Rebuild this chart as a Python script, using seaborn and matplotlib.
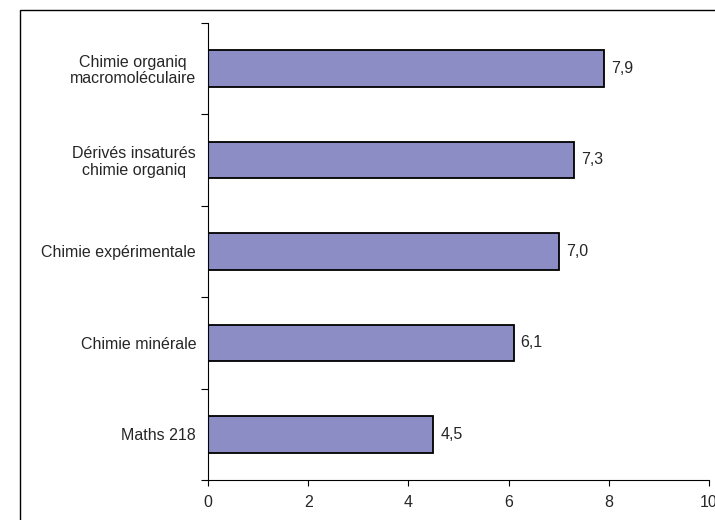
import matplotlib
matplotlib.use('Agg')
import matplotlib.pyplot as plt
from matplotlib.patches import Rectangle
from matplotlib.ticker import FixedLocator
import seaborn as sns
import pandas as pd

categories = ['Chimie organiq\nmacromoléculaire', 'Dérivés insaturés\nchimie organiq',
              'Chimie expérimentale', 'Chimie minérale', 'Maths 218']
values = [7.9, 7.3, 7.0, 6.1, 4.5]
xticks = [0, 2, 4, 6, 8, 10]

sns.set_style('white')
plt.rcParams['font.family'] = ['Liberation Sans', 'DejaVu Sans']
fs = 11.5

df = pd.DataFrame({'cat': categories, 'val': values})

fig = plt.figure(figsize=(7.15, 5.2), dpi=100)
ax = fig.add_axes([0.2909, 0.0769, 0.7007, 0.8794])

sns.barplot(data=df, x='val', y='cat', orient='h', color='#8B8DC4', saturation=1,
            width=0.4, edgecolor='black', linewidth=1.3, ax=ax)

# value labels with comma decimals
for i, v in enumerate(values):
    ax.text(v + 0.14, i, f'{v:.1f}'.replace('.', ','), va='center', ha='left', fontsize=fs)

ax.set_xlim(0, 10)
ax.set_ylim(len(categories) - 0.5, -0.5)
ax.set_xticks(xticks)
ax.set_xticklabels([str(t) for t in xticks], fontsize=fs)
ax.set_yticklabels(categories, fontsize=fs, linespacing=1.1, ha='right', multialignment='center')
ax.set_xlabel('')
ax.set_ylabel('')

ax.yaxis.set_minor_locator(FixedLocator([i - 0.5 for i in range(len(categories) + 1)]))
ax.tick_params(axis='y', which='major', length=0, pad=8.5)
ax.tick_params(axis='y', which='minor', left=True, length=5, width=0.8, color='black', direction='out')
ax.tick_params(axis='x', which='major', bottom=True, length=4, width=0.8, color='black',
               direction='out', pad=6.5)

for side in ['top', 'right']:
    ax.spines[side].set_visible(False)
for side in ['left', 'bottom']:
    ax.spines[side].set_color('black')
    ax.spines[side].set_linewidth(0.8)

# outer chart frame (cropped at right and bottom)
fig.patches.append(Rectangle((0.028, -0.2), 1.5, 1.181, transform=fig.transFigure,
                             fill=False, edgecolor='black', linewidth=1.0))

fig.savefig('out.png', dpi=100)
